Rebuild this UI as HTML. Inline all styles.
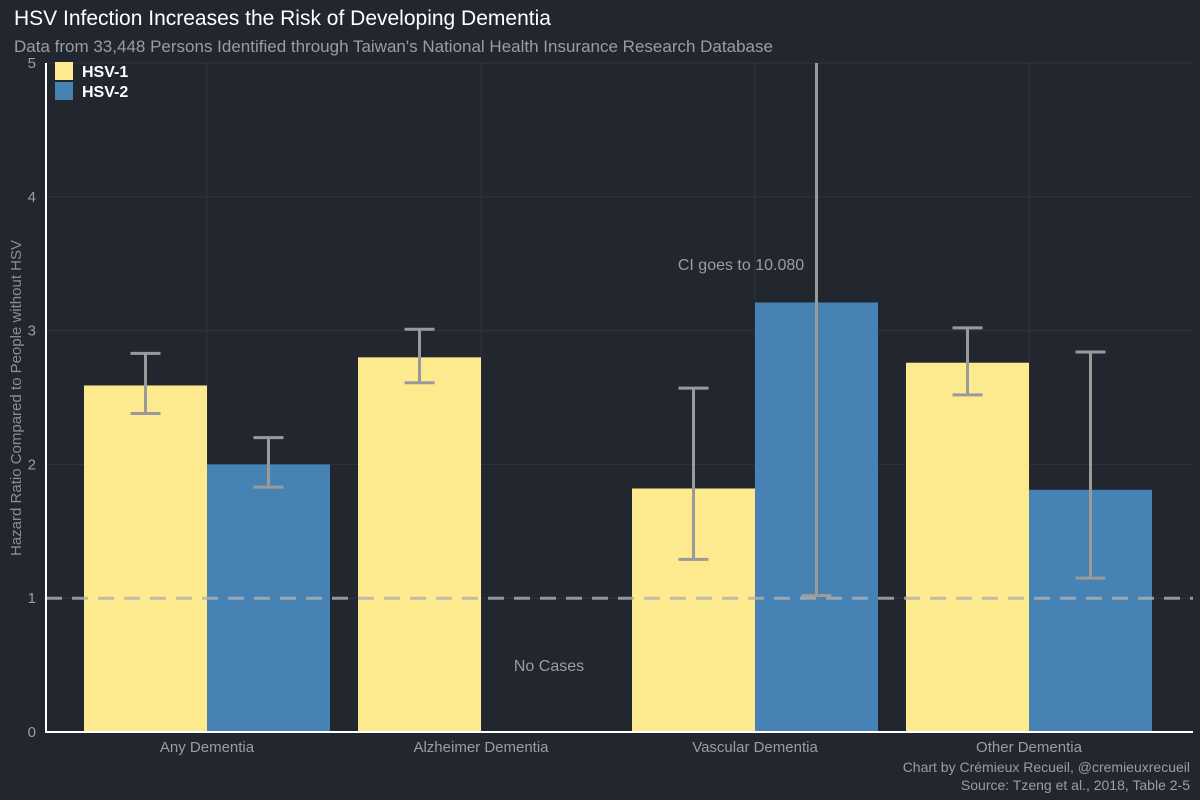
<!DOCTYPE html>
<html><head><meta charset="utf-8"><style>
body{margin:0;background:#22272f;}
svg{display:block;font-family:"Liberation Sans",sans-serif;}
</style></head><body>
<svg id="chart" width="1200" height="800">
<rect width="1200" height="800" fill="#22272f"/>
<text x="14" y="25" fill="#ffffff" font-size="21">HSV Infection Increases the Risk of Developing Dementia</text>
<text x="14" y="52" fill="#9a9da3" font-size="17">Data from 33,448 Persons Identified through Taiwan's National Health Insurance Research Database</text>
<text transform="translate(21,398) rotate(-90)" text-anchor="middle" fill="#8a8d93" font-size="15">Hazard Ratio Compared to People without HSV</text>
<g id="grid"></g><g id="bars"></g><g id="errs"></g><g id="axes"></g>
<text x="1190" y="772" text-anchor="end" fill="#9a9da3" font-size="14">Chart by Crémieux Recueil, @cremieuxrecueil</text>
<text x="1190" y="790" text-anchor="end" fill="#9a9da3" font-size="14">Source: Tzeng et al., 2018, Table 2-5</text>
<rect x="55" y="62" width="18" height="18" fill="#fdea8f"/>
<text x="82" y="77" fill="#fff" font-weight="bold" font-size="16">HSV-1</text>
<rect x="55" y="82" width="18" height="18" fill="#4682b4"/>
<text x="82" y="97" fill="#fff" font-weight="bold" font-size="16">HSV-2</text>
</svg>
<script>
const categories=["Any Dementia","Alzheimer Dementia","Vascular Dementia","Other Dementia"];
const hsv1=[2.59,2.80,1.82,2.76];
const hsv1Lo=[2.38,2.61,1.29,2.52];
const hsv1Hi=[2.83,3.01,2.57,3.02];
const hsv2=[2.00,null,3.21,1.81];
const hsv2Lo=[1.83,null,1.02,1.15];
const hsv2Hi=[2.20,null,10.08,2.84];
const yTicks=[0,1,2,3,4,5];
const NS="http://www.w3.org/2000/svg";
const x0=46,x1=1193,yBase=732,yTop=63,yMax=5;
const bandStart=70,step=274;
const y=v=>yBase-(Math.min(v,yMax)/yMax)*(yBase-yTop);
const cx=i=>bandStart+step*(i+0.5);
const bw=123;
function el(t,a,p){const e=document.createElementNS(NS,t);for(const k in a)e.setAttribute(k,a[k]);document.getElementById(p).appendChild(e);return e;}
yTicks.forEach(t=>{
 const g=el("line",{x1:x0,x2:x1,y1:y(t),y2:y(t),stroke:"#30353d","stroke-width":1},"grid");
 
 
 const l=el("text",{x:36,y:y(t)+5,"text-anchor":"end",fill:"#9a9da3","font-size":"15"},"axes");
 l.textContent=t;
 
 
});
categories.forEach((c,i)=>{
 const g=el("line",{x1:cx(i),x2:cx(i),y1:yTop,y2:yBase,stroke:"#30353d","stroke-width":1},"grid");
 
 
 const l=el("text",{x:cx(i),y:752,"text-anchor":"middle",fill:"#9a9da3","font-size":"15"},"axes");
 l.textContent=c;
 
 
});
function bar(v,lo,hi,x,col,name){
 if(v==null)return;
 const r=el("rect",{x:x,y:y(v),width:bw,height:yBase-y(v),fill:col},"bars");
 
 
 const m=x+bw/2;
 let d=`M${m},${y(hi)}V${y(lo)}M${m-15},${y(lo)}H${m+15}`;
 if(hi<=yMax)d+=`M${m-15},${y(hi)}H${m+15}`;
 const e=el("path",{d:d,stroke:"#9a9a9a","stroke-width":3,fill:"none"},"errs");
 
 
}
categories.forEach((c,i)=>{
 bar(hsv1[i],hsv1Lo[i],hsv1Hi[i],cx(i)-bw,"#fdea8f","bar-hsv1");
 bar(hsv2[i],hsv2Lo[i],hsv2Hi[i],cx(i),"#4682b4","bar-hsv2");
});
const d=el("line",{x1:x0,x2:x1,y1:y(1),y2:y(1),stroke:"#b0b0b0","stroke-width":3,"stroke-dasharray":"16 10",opacity:0.8},"axes");


const ax=el("path",{d:`M${x0},${yTop}V${yBase}H${x1}`,stroke:"#fff","stroke-width":2,fill:"none"},"axes");


const n1=el("text",{x:cx(1)+68,y:671,"text-anchor":"middle",fill:"#9a9da3","font-size":"16"},"axes");
n1.textContent="No Cases";


const n2=el("text",{x:cx(2)-14,y:270,"text-anchor":"middle",fill:"#9a9da3","font-size":"16"},"axes");
n2.textContent="CI goes to 10.080";


</script>
</body></html>
